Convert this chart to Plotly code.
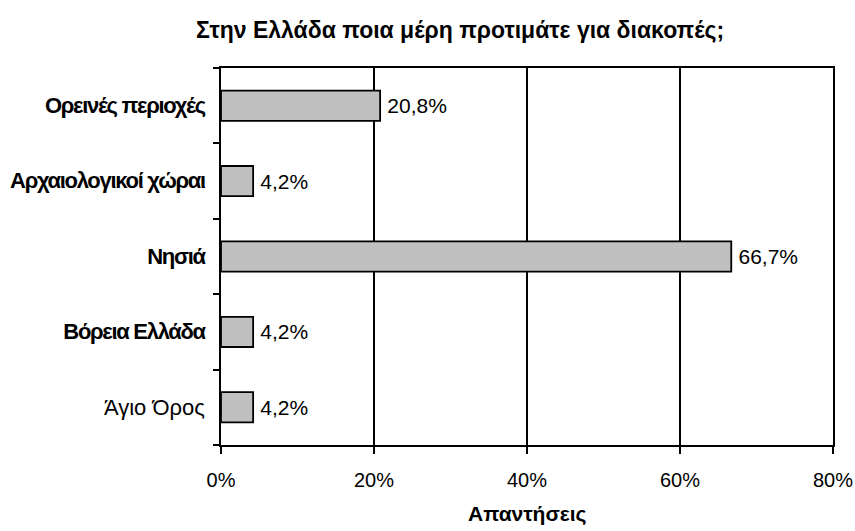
import plotly.graph_objects as go

categories = ["Ορεινές περιοχές", "Αρχαιολογικοί χώραι", "Νησιά", "Βόρεια Ελλάδα", "Άγιο Όρος"]
bold_labels = [True, True, True, True, False]
values = [0.208, 0.042, 0.667, 0.042, 0.042]
x_ticks = [0, 0.2, 0.4, 0.6, 0.8]
x_tick_labels = ["0%", "20%", "40%", "60%", "80%"]
title_text = "Στην Ελλάδα ποια μέρη προτιμάτε για διακοπές;"
x_title = "Απαντήσεις"

FONT = "Liberation Sans, Arial, sans-serif"

tick_text = []
for c, b in zip(categories, bold_labels):
    if b:
        tick_text.append("<span style='font-weight:bold;font-size:22px;letter-spacing:-1.3px'>" + c + "</span>")
    else:
        tick_text.append("<span style='font-size:22px'>" + c + "</span>")

fig = go.Figure(
    go.Bar(
        x=values,
        y=categories,
        orientation="h",
        marker=dict(color="#c0c0c0", line=dict(color="black", width=1.8)),
        texttemplate="\u2009%{x:.1%}",
        textposition="outside",
        textfont=dict(family=FONT, size=21, color="black"),
        cliponaxis=False,
        width=0.4,
    )
)

plot_x0, plot_x1 = 221, 833
plot_y0, plot_y1 = 68, 445


def px_to_paper_x(px):
    return (px - plot_x0) / (plot_x1 - plot_x0)


def px_to_paper_y(py):
    return (plot_y1 - py) / (plot_y1 - plot_y0)


fig.update_layout(
    width=855,
    height=531,
    margin=dict(l=plot_x0, r=855 - plot_x1, t=plot_y0, b=531 - plot_y1, autoexpand=False),
    paper_bgcolor="white",
    plot_bgcolor="white",
    separators=",.",
    showlegend=False,
    font=dict(family=FONT, size=21, color="black"),
    annotations=[
        dict(text="<b>" + title_text + "</b>", x=px_to_paper_x(460), y=px_to_paper_y(30),
             xref="paper", yref="paper", showarrow=False, xanchor="center", yanchor="middle",
             font=dict(family=FONT, size=23, color="black")),
        dict(text="<b>" + x_title + "</b>", x=0.5, y=px_to_paper_y(514),
             xref="paper", yref="paper", showarrow=False, xanchor="center", yanchor="middle",
             font=dict(family=FONT, size=21, color="black")),
    ],
)

fig.update_xaxes(
    range=[0, 0.8],
    tickvals=x_ticks,
    ticktext=x_tick_labels,
    showgrid=True,
    gridcolor="black",
    gridwidth=1.5,
    showline=True,
    linecolor="black",
    linewidth=2,
    mirror=True,
    ticks="outside",
    ticklen=7,
    tickwidth=1.5,
    tickcolor="black",
    zeroline=False,
    automargin=False,
    ticklabelstandoff=9,
    tickfont=dict(family=FONT, size=20, color="black"),
)
fig.update_yaxes(
    autorange="reversed",
    tickvals=categories,
    ticktext=tick_text,
    tickson="boundaries",
    ticks="outside",
    ticklen=6,
    tickwidth=1.5,
    tickcolor="black",
    showline=True,
    linecolor="black",
    linewidth=2,
    mirror=True,
    showgrid=False,
    automargin=False,
    ticklabelstandoff=10,
    tickfont=dict(family=FONT, size=21, color="black"),
)

fig.write_html(
    "out.html",
    config={"displayModeBar": False},
    post_script="document.body.style.margin='0';document.body.style.padding='0';",
)
